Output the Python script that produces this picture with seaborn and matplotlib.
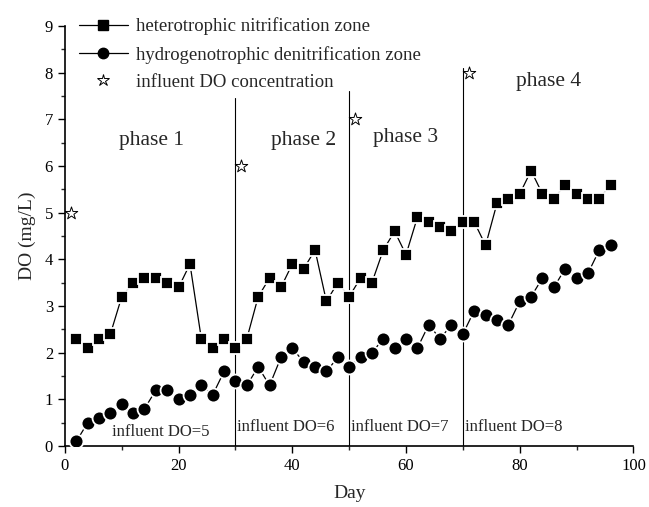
import matplotlib
matplotlib.use("Agg")
import matplotlib.pyplot as plt
import seaborn as sns
import pandas as pd
from matplotlib.lines import Line2D
from matplotlib.ticker import MultipleLocator

days = [2, 4, 6, 8, 10, 12, 14, 16, 18, 20, 22, 24, 26, 28, 30, 32, 34, 36, 38, 40,
        42, 44, 46, 48, 50, 52, 54, 56, 58, 60, 62, 64, 66, 68, 70, 72, 74, 76, 78, 80,
        82, 84, 86, 88, 90, 92, 94, 96]
heterotrophic = [2.3, 2.1, 2.3, 2.4, 3.2, 3.5, 3.6, 3.6, 3.5, 3.4, 3.9, 2.3, 2.1, 2.3, 2.1, 2.3,
                 3.2, 3.6, 3.4, 3.9, 3.8, 4.2, 3.1, 3.5, 3.2, 3.6, 3.5, 4.2, 4.6, 4.1, 4.9, 4.8,
                 4.7, 4.6, 4.8, 4.8, 4.3, 5.2, 5.3, 5.4, 5.9, 5.4, 5.3, 5.6, 5.4, 5.3, 5.3, 5.6]
hydrogenotrophic = [0.1, 0.5, 0.6, 0.7, 0.9, 0.7, 0.8, 1.2, 1.2, 1.0, 1.1, 1.3, 1.1, 1.6, 1.4, 1.3,
                    1.7, 1.3, 1.9, 2.1, 1.8, 1.7, 1.6, 1.9, 1.7, 1.9, 2.0, 2.3, 2.1, 2.3, 2.1, 2.6,
                    2.3, 2.6, 2.4, 2.9, 2.8, 2.7, 2.6, 3.1, 3.2, 3.6, 3.4, 3.8, 3.6, 3.7, 4.2, 4.3]
influent_days = [1, 31, 51, 71]
influent_do = [5, 6, 7, 8]

phase_bounds = [30, 50, 70]
phase_line_tops = [7.45, 7.6, 8.1]
phase_labels = ["phase 1", "phase 2", "phase 3", "phase 4"]
influent_labels = ["influent DO=5", "influent DO=6", "influent DO=7", "influent DO=8"]

labels = ["heterotrophic nitrification zone", "hydrogenotrophic denitrification zone",
          "influent DO concentration"]

sns.set_style("ticks")
plt.rcParams['font.family'] = ['Liberation Serif', 'DejaVu Serif']
plt.rcParams['mathtext.fontset'] = 'stix'

df_h = pd.DataFrame({"Day": days, "DO": heterotrophic})
df_d = pd.DataFrame({"Day": days, "DO": hydrogenotrophic})
df_i = pd.DataFrame({"Day": influent_days, "DO": influent_do})

fig = plt.figure(figsize=(6.49, 5.07), dpi=100)
ax = fig.add_axes([0.100, 0.120, 0.876, 0.829])

for b, top in zip(phase_bounds, phase_line_tops):
    ax.plot([b, b], [0, top], color="black", lw=0.8, zorder=1)

sns.lineplot(data=df_h, x="Day", y="DO", ax=ax, color="black", lw=0.9,
             marker="s", markersize=9, markeredgecolor="white", markeredgewidth=1.3,
             markerfacecolor="black", zorder=3)
sns.lineplot(data=df_d, x="Day", y="DO", ax=ax, color="black", lw=0.9,
             marker="o", markersize=10, markeredgecolor="white", markeredgewidth=1.3,
             markerfacecolor="black", zorder=3)
sns.scatterplot(data=df_i, x="Day", y="DO", ax=ax, marker="*", s=90,
                facecolor="white", edgecolor="black", linewidth=0.7, zorder=5)

fs = 15.5
ax.text(15.3, 6.55, phase_labels[0], ha="center", va="center", fontsize=fs)
ax.text(42.0, 6.55, phase_labels[1], ha="center", va="center", fontsize=fs)
ax.text(60.0, 6.6, phase_labels[2], ha="center", va="center", fontsize=fs)
ax.text(85.0, 7.8, phase_labels[3], ha="center", va="center", fontsize=fs)

ax.text(8.2, 0.3, influent_labels[0], ha="left", va="center", fontsize=12)
ax.text(30.3, 0.4, influent_labels[1], ha="left", va="center", fontsize=12)
ax.text(50.3, 0.4, influent_labels[2], ha="left", va="center", fontsize=12)
ax.text(70.3, 0.4, influent_labels[3], ha="left", va="center", fontsize=12)

ax.set_xlim(0, 100)
ax.set_ylim(0, 9)
ax.xaxis.set_major_locator(MultipleLocator(20))
ax.xaxis.set_minor_locator(MultipleLocator(10))
ax.yaxis.set_major_locator(MultipleLocator(1))
ax.yaxis.set_minor_locator(MultipleLocator(0.5))
ax.tick_params(axis="both", which="major", direction="out", length=5, width=1,
               labelsize=12, colors="black")
ax.tick_params(axis="both", which="minor", direction="out", length=3, width=1)
for s in ["left", "bottom"]:
    ax.spines[s].set_linewidth(1.2)
    ax.spines[s].set_color("black")
sns.despine(ax=ax)
ax.set_xlabel("Day", fontsize=14, labelpad=8)
ax.set_ylabel("DO (mg/L)", fontsize=14, labelpad=6)

handles = [
    Line2D([], [], color="black", lw=0.9, marker="s", markersize=7, markerfacecolor="black"),
    Line2D([], [], color="black", lw=0.9, marker="o", markersize=7.5, markerfacecolor="black"),
    Line2D([], [], color="none", marker="*", markersize=9, markerfacecolor="white",
           markeredgecolor="black", markeredgewidth=0.7),
]
ax.legend(handles, labels, loc="upper left", bbox_to_anchor=(0.025, 1.02), frameon=False,
          fontsize=13.5, handlelength=2.6, handletextpad=0.45, labelspacing=0.55,
          borderaxespad=0, borderpad=0)

fig.savefig("out.png", dpi=100)
